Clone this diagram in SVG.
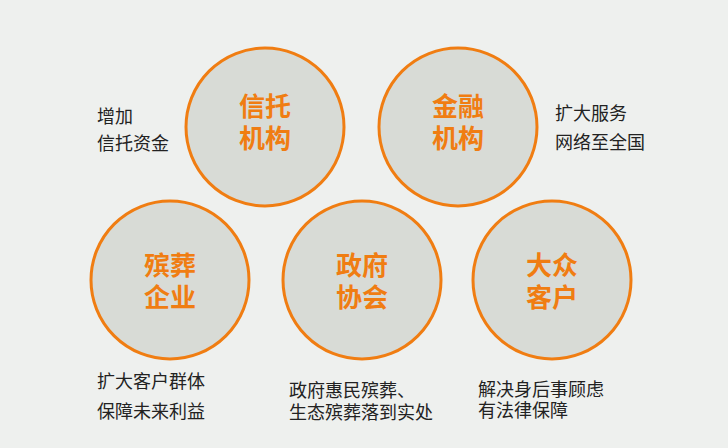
<svg xmlns="http://www.w3.org/2000/svg" width="728" height="448" viewBox="0 0 728 448">
<style>
.bg{fill:#eef0ee}
.c{fill:#d8dbd6;stroke:#f07d12;stroke-width:3}
.t{font-family:"Noto Sans CJK SC","Noto Sans",sans-serif;font-size:26px;font-weight:bold;fill:#f07d12;text-anchor:middle;dominant-baseline:central}
.l{font-family:"Noto Sans CJK SC","Noto Sans",sans-serif;font-size:18px;fill:#222;dominant-baseline:central}
</style>
<rect class="bg" width="728" height="448"/>
<g id="connectors"/>
<g id="trust">
<circle class="c" cx="265" cy="127" r="79"/>
<text class="t"><tspan x="265" y="104">信托</tspan><tspan x="265" y="136">机构</tspan></text>
<text class="l"><tspan x="97" y="115">增加</tspan><tspan x="97" y="142">信托资金</tspan></text>
</g>
<g id="finance">
<circle class="c" cx="458" cy="127" r="79"/>
<text class="t"><tspan x="458" y="104">金融</tspan><tspan x="458" y="136">机构</tspan></text>
<text class="l"><tspan x="555" y="112">扩大服务</tspan><tspan x="555" y="141">网络至全国</tspan></text>
</g>
<g id="funeral">
<circle class="c" cx="170" cy="280" r="79"/>
<text class="t"><tspan x="170" y="263">殡葬</tspan><tspan x="170" y="295">企业</tspan></text>
<text class="l"><tspan x="97" y="380">扩大客户群体</tspan><tspan x="97" y="410">保障未来利益</tspan></text>
</g>
<g id="gov">
<circle class="c" cx="362" cy="280" r="79"/>
<text class="t"><tspan x="362" y="263">政府</tspan><tspan x="362" y="295">协会</tspan></text>
<text class="l"><tspan x="289" y="389">政府惠民殡葬、</tspan><tspan x="289" y="411">生态殡葬落到实处</tspan></text>
</g>
<g id="public">
<circle class="c" cx="552" cy="280" r="79"/>
<text class="t"><tspan x="552" y="263">大众</tspan><tspan x="552" y="295">客户</tspan></text>
<text class="l"><tspan x="478" y="388">解决身后事顾虑</tspan><tspan x="478" y="409">有法律保障</tspan></text>
</g>
</svg>
